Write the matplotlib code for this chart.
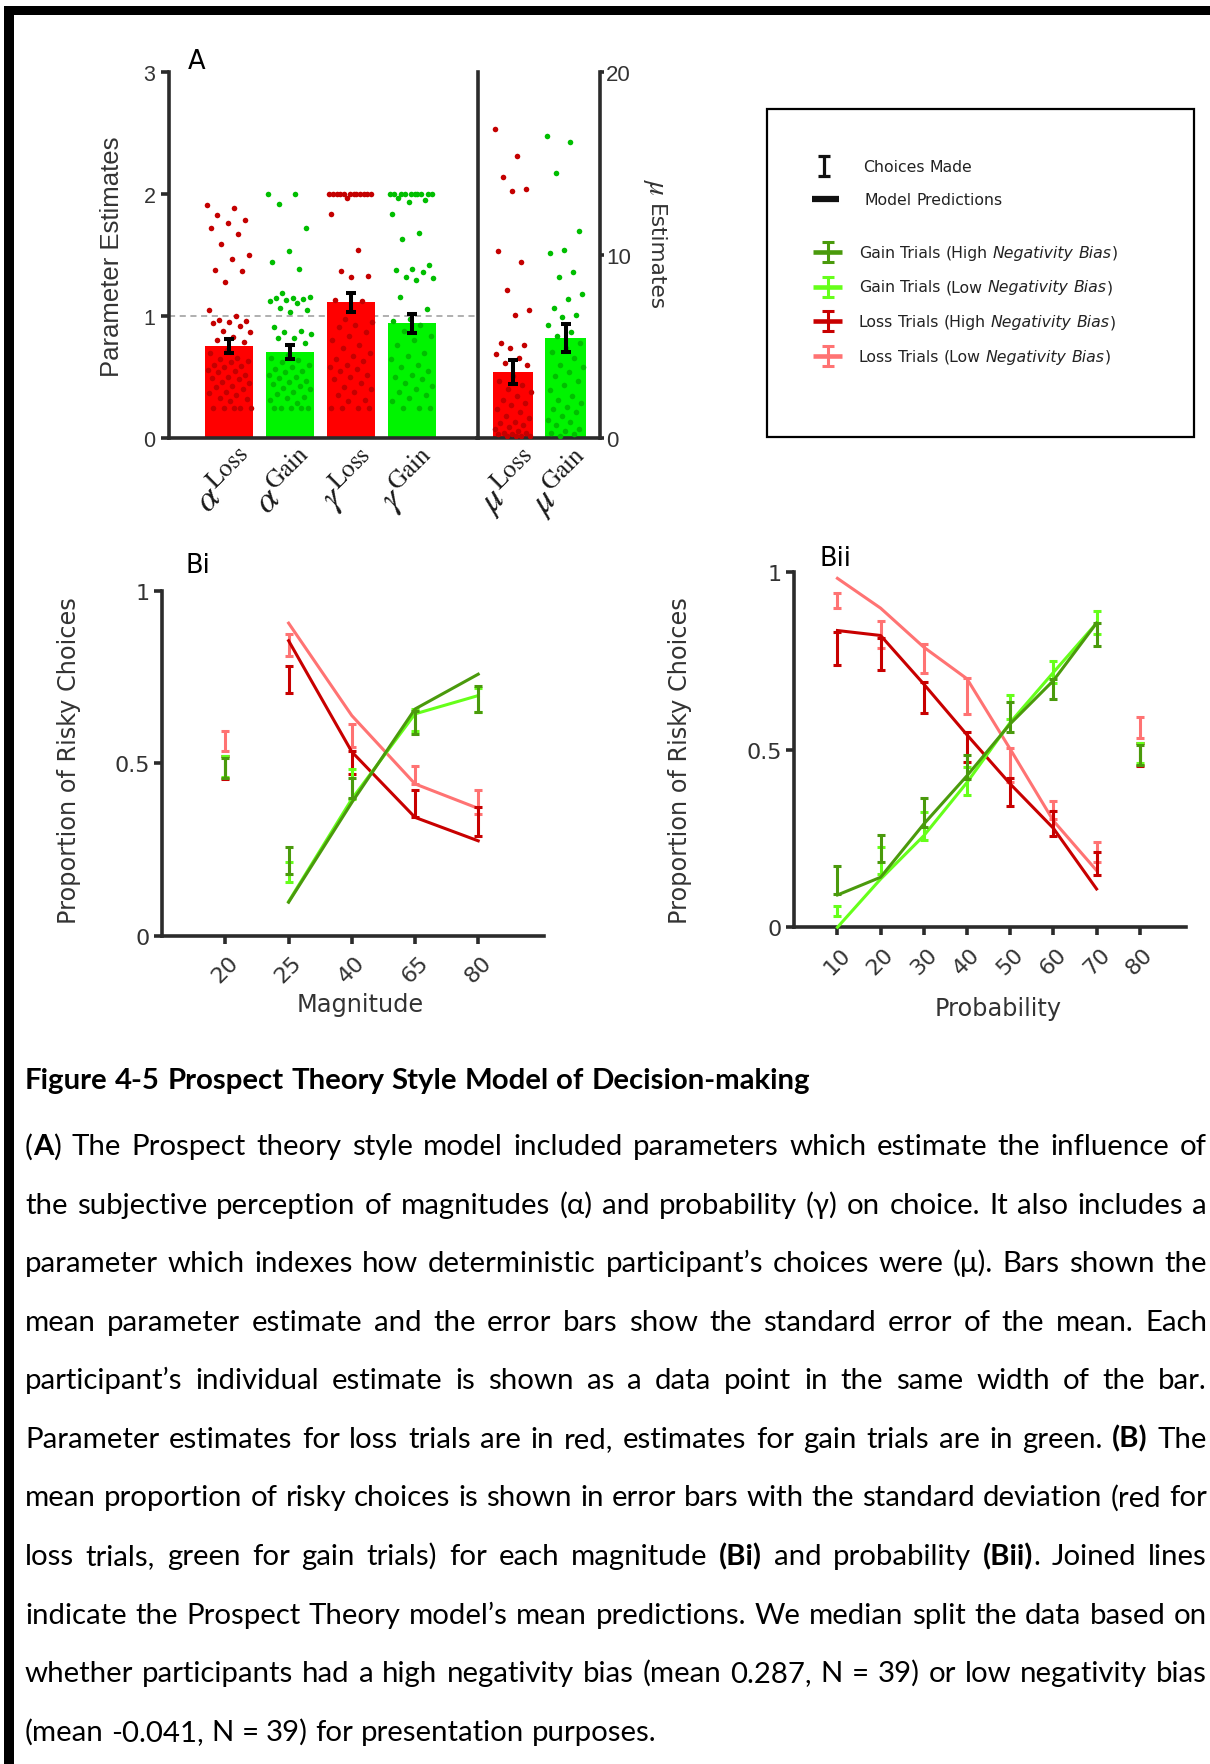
import numpy as np
import matplotlib
matplotlib.use('Agg')
import matplotlib.pyplot as plt
from matplotlib.patches import Rectangle

plt.rcParams['mathtext.fontset'] = 'stix'
plt.rcParams['font.family'] = ['DejaVu Sans']

W, H = 1210, 1765
INK = '#2b2b2b'
TXT = '#333333'

RED, RED_DOT = '#FF0000', '#C40000'
GREEN, GREEN_DOT = '#00F400', '#00BE00'
LOSS_LOW, LOSS_HIGH = '#FF7373', '#C80000'
GAIN_HIGH, GAIN_LOW = '#4A9A0C', '#66FF1A'

# ---------------- panel A: parameter estimates ----------------
param_labels = [r'$\alpha^{\mathrm{Loss}}$', r'$\alpha^{\mathrm{Gain}}$',
                r'$\gamma^{\mathrm{Loss}}$', r'$\gamma^{\mathrm{Gain}}$']
param_means = [0.755, 0.707, 1.112, 0.942]
param_sem = [0.054, 0.057, 0.080, 0.079]
mu_labels = [r'$\mu^{\mathrm{Loss}}$', r'$\mu^{\mathrm{Gain}}$']
mu_means = [3.61, 5.46]
mu_sem = [0.64, 0.76]

alpha_loss_pts = [1.91, 1.89, 1.83, 1.79, 1.76, 1.72, 1.67, 1.59, 1.50, 1.47, 1.38, 1.37,
                  1.28, 1.05, 1.00, 0.97, 0.96, 0.95, 0.94, 0.92, 0.88, 0.87, 0.83, 0.80,
                  0.79, 0.72, 0.70, 0.66, 0.65, 0.63, 0.62, 0.60, 0.59, 0.58, 0.56, 0.55,
                  0.54, 0.52, 0.50, 0.49, 0.48, 0.46, 0.45, 0.43, 0.42, 0.40, 0.38, 0.37,
                  0.35, 0.33, 0.32, 0.30, 0.25, 0.25, 0.25, 0.25, 0.25]
alpha_gain_pts = [2.00, 2.00, 1.92, 1.72, 1.53, 1.44, 1.39, 1.19, 1.16, 1.15, 1.15, 1.14,
                  1.13, 1.12, 1.11, 1.07, 1.05, 1.03, 0.91, 0.88, 0.87, 0.85, 0.82, 0.82,
                  0.78, 0.68, 0.66, 0.64, 0.62, 0.60, 0.58, 0.57, 0.55, 0.54, 0.52, 0.50,
                  0.49, 0.47, 0.46, 0.44, 0.43, 0.41, 0.40, 0.38, 0.36, 0.34, 0.33, 0.31,
                  0.29, 0.25, 0.25, 0.25, 0.25, 0.25]
gamma_loss_pts = [2.00, 2.00, 2.00, 2.00, 2.00, 2.00, 2.00, 2.00, 2.00, 2.00, 2.00, 2.00,
                  1.97, 1.84, 1.54, 1.37, 1.33, 1.32, 1.13, 1.12, 0.98, 0.95, 0.93, 0.91,
                  0.87, 0.84, 0.80, 0.76, 0.74, 0.70, 0.67, 0.65, 0.63, 0.60, 0.58, 0.57,
                  0.55, 0.52, 0.50, 0.48, 0.45, 0.42, 0.40, 0.38, 0.35, 0.31, 0.30, 0.25,
                  0.25, 0.25, 0.25]
gamma_gain_pts = [2.00, 2.00, 2.00, 2.00, 2.00, 2.00, 2.00, 2.00, 2.00, 2.00, 1.97, 1.95,
                  1.94, 1.84, 1.68, 1.63, 1.42, 1.39, 1.38, 1.36, 1.32, 1.31, 1.30, 1.16,
                  1.06, 0.98, 0.96, 0.93, 0.88, 0.84, 0.80, 0.76, 0.70, 0.67, 0.65, 0.60,
                  0.58, 0.55, 0.52, 0.50, 0.48, 0.45, 0.43, 0.40, 0.38, 0.35, 0.33, 0.30,
                  0.25, 0.25, 0.25]
mu_loss_pts = [16.9, 15.4, 14.3, 13.6, 13.5, 10.2, 9.6, 8.1, 7.0, 6.7, 5.2, 5.1, 4.9, 4.6,
               4.4, 4.1, 4.0, 3.4, 3.1, 2.9, 2.7, 2.5, 2.3, 2.1, 1.9, 1.8, 1.6, 1.4, 1.2,
               1.1, 0.9, 0.8, 0.7, 0.6, 0.5, 0.4, 0.3, 0.3, 0.2, 0.2, 0.1, 0.1, 0.1, 0.1]
mu_gain_pts = [16.5, 16.2, 14.5, 11.3, 10.3, 10.1, 9.1, 8.8, 7.9, 7.6, 7.1, 6.7, 6.6, 6.2,
               5.8, 5.6, 5.2, 4.9, 4.7, 4.4, 4.0, 3.9, 3.6, 3.4, 3.1, 2.9, 2.6, 2.3, 2.1,
               1.9, 1.7, 1.6, 1.4, 1.2, 1.0, 0.9, 0.7, 0.5, 0.4, 0.3, 0.2, 0.1]

# ---------------- panel Bi: magnitude ----------------
mag_labels = ['20', '25', '40', '65', '80']
mag_loss_low = [0.565, 0.843, 0.580, 0.465, 0.388]
mag_loss_low_err = [0.029, 0.031, 0.034, 0.026, 0.035]
mag_loss_high = [0.488, 0.742, 0.502, 0.382, 0.331]
mag_loss_high_err = [0.034, 0.039, 0.034, 0.039, 0.041]
mag_gain_low = [0.490, 0.184, 0.440, 0.625, 0.683]
mag_gain_low_err = [0.030, 0.029, 0.044, 0.032, 0.034]
mag_gain_high = [0.485, 0.217, 0.427, 0.618, 0.686]
mag_gain_high_err = [0.029, 0.039, 0.029, 0.034, 0.037]
mag_model_x = [1, 2, 3, 4]
mag_loss_low_model = [0.906, 0.638, 0.440, 0.369]
mag_loss_high_model = [0.855, 0.533, 0.343, 0.275]
mag_gain_low_model = [0.099, 0.396, 0.643, 0.696]
mag_gain_high_model = [0.097, 0.386, 0.657, 0.758]

# ---------------- panel Bii: probability ----------------
prob_labels = ['10', '20', '30', '40', '50', '60', '70', '80']
prob_loss_low = [0.920, 0.826, 0.757, 0.651, 0.456, 0.331, 0.212, 0.563]
prob_loss_low_err = [0.021, 0.038, 0.041, 0.050, 0.048, 0.026, 0.029, 0.029]
prob_loss_high = [0.786, 0.769, 0.647, 0.508, 0.381, 0.293, 0.180, 0.487]
prob_loss_high_err = [0.047, 0.045, 0.043, 0.043, 0.039, 0.036, 0.033, 0.032]
prob_gain_low = [0.046, 0.188, 0.286, 0.412, 0.620, 0.720, 0.859, 0.490]
prob_gain_low_err = [0.013, 0.038, 0.040, 0.039, 0.033, 0.031, 0.033, 0.028]
prob_gain_high = [0.133, 0.222, 0.323, 0.452, 0.592, 0.671, 0.825, 0.485]
prob_gain_high_err = [0.039, 0.039, 0.041, 0.034, 0.043, 0.029, 0.032, 0.028]
prob_model_x = [0, 1, 2, 3, 4, 5, 6]
prob_loss_low_model = [0.983, 0.899, 0.789, 0.700, 0.502, 0.300, 0.160]
prob_loss_high_model = [0.836, 0.822, 0.685, 0.542, 0.404, 0.279, 0.108]
prob_gain_low_model = [0.000, 0.136, 0.258, 0.408, 0.577, 0.718, 0.857]
prob_gain_high_model = [0.091, 0.141, 0.291, 0.427, 0.573, 0.695, 0.857]

legend_rows = [
    ('Gain Trials (High *Negativity Bias*)', GAIN_HIGH),
    ('Gain Trials (Low *Negativity Bias*)', GAIN_LOW),
    ('Loss Trials (High *Negativity Bias*)', LOSS_HIGH),
    ('Loss Trials (Low *Negativity Bias*)', LOSS_LOW),
]

caption_title = 'Figure 4-5 Prospect Theory Style Model of Decision-making'
caption_lines = [
    '(**A**) The Prospect theory style model included parameters which estimate the influence of',
    'the subjective perception of magnitudes (α) and probability (γ) on choice. It also includes a',
    'parameter which indexes how deterministic participant’s choices were (μ). Bars shown the',
    'mean parameter estimate and the error bars show the standard error of the mean. Each',
    'participant’s individual estimate is shown as a data point in the same width of the bar.',
    'Parameter estimates for loss trials are in red, estimates for gain trials are in green. **(B)** The',
    'mean proportion of risky choices is shown in error bars with the standard deviation (red for',
    'loss trials, green for gain trials) for each magnitude **(Bi)** and probability **(Bii)**. Joined lines',
    'indicate the Prospect Theory model’s mean predictions. We median split the data based on',
    'whether participants had a high negativity bias (mean 0.287, N = 39) or low negativity bias',
    '(mean -0.041, N = 39) for presentation purposes.',
]


def rect(x0, y0, x1, y1):
    # pixel box (top-left origin) -> figure fraction
    return [x0 / W, 1 - y1 / H, (x1 - x0) / W, (y1 - y0) / H]


def frame(ax, show):
    for side in ['top', 'right', 'left', 'bottom']:
        sp = ax.spines[side]
        sp.set_visible(side in show)
        sp.set_linewidth(2.6)
        sp.set_color(INK)
        sp.set_capstyle('projecting')
    ax.set_facecolor('none')


def spread(n, width):
    k = np.arange(n)
    return ((k * 0.618034) % 1.0 - 0.5) * width


fig = plt.figure(figsize=(W / 100, H / 100), dpi=100)
fig.patch.set_facecolor('white')

# full-page overlay in pixel units for caption, legend and frame
ov = fig.add_axes([0, 0, 1, 1])
ov.set_xlim(0, W)
ov.set_ylim(H, 0)
ov.axis('off')
ov.add_patch(Rectangle((4, 7), W - 4, 9, color='black', lw=0))
ov.add_patch(Rectangle((4, 7), 10, H - 7, color='black', lw=0))

# ---------------- A ----------------
TICK_A = dict(textcoords='offset points', rotation=45, ha='right', va='center',
              rotation_mode='anchor', fontsize=26, color='#1a1a1a', annotation_clip=False)

axA = fig.add_axes(rect(169, 73.3, 477.5, 439))
frame(axA, ['left', 'bottom'])
axA.set_xlim(-0.984, 4.07)
axA.set_ylim(0, 3)
xa = np.arange(len(param_means))
bar_cols = [RED, GREEN, RED, GREEN]
dot_cols = [RED_DOT, GREEN_DOT, RED_DOT, GREEN_DOT]
axA.axhline(1, color='#9a9a9a', lw=1.1, ls=(0, (4, 3)), zorder=1)
axA.bar(xa, param_means, width=0.787, color=bar_cols, zorder=2)
for i, pts in enumerate([alpha_loss_pts, alpha_gain_pts, gamma_loss_pts, gamma_gain_pts]):
    axA.scatter(i + spread(len(pts), 0.72), pts, s=16, color=dot_cols[i], lw=0, zorder=3)
axA.errorbar(xa, param_means, yerr=param_sem, fmt='none', ecolor='black',
             elinewidth=2.9, capsize=3.6, capthick=2.9, zorder=4)
axA.set_xticks([])
axA.set_yticks([0, 1, 2, 3])
axA.tick_params(axis='y', length=5.8, width=2.6, color=INK, labelsize=15.5,
                labelcolor=TXT, pad=4)
for lab in axA.get_yticklabels():
    lab.set_family('Liberation Sans')
for i, lab in enumerate(param_labels):
    axA.annotate(lab, xy=(i, 0), xycoords=('data', 'axes fraction'), xytext=(16, -13), **TICK_A)

axM = fig.add_axes(rect(477.5, 73.3, 600, 439))
frame(axM, ['left', 'right', 'bottom'])
axM.set_xlim(-0.676, 1.657)
axM.set_ylim(0, 20)
xm = np.arange(len(mu_means))
axM.bar(xm, mu_means, width=0.78, color=[RED, GREEN], zorder=2)
for i, pts in enumerate([mu_loss_pts, mu_gain_pts]):
    axM.scatter(i + spread(len(pts), 0.7), pts, s=16, color=[RED_DOT, GREEN_DOT][i],
                lw=0, zorder=3)
axM.errorbar(xm, mu_means, yerr=mu_sem, fmt='none', ecolor='black',
             elinewidth=2.9, capsize=3.6, capthick=2.9, zorder=4)
axM.set_xticks([])
axM.yaxis.tick_right()
axM.set_yticks([0, 10, 20])
axM.tick_params(axis='y', length=3, width=2.6, color=INK, labelsize=16,
                labelcolor=TXT, pad=1.5)
for lab in axM.get_yticklabels():
    lab.set_family('Liberation Sans')
for i, lab in enumerate(mu_labels):
    axM.annotate(lab, xy=(i, 0), xycoords=('data', 'axes fraction'), xytext=(16, -13), **TICK_A)

ov.text(112, 257, 'Parameter Estimates', rotation=90, ha='center', va='center',
        fontsize=18.5, color=TXT, family='Liberation Sans')
ov.text(657, 187, 'μ', rotation=270, ha='center', va='center',
        fontsize=21, color=TXT, family='STIXGeneral', style='italic')
ov.text(655, 257, 'Estimates', rotation=270, ha='center', va='center',
        fontsize=15.6, color=TXT)
ov.text(188, 69, 'A', fontsize=18.5, color='black', va='baseline')


# ---------------- B ----------------
def draw_series(ax, means, errs, model_x, model, color):
    x = np.arange(len(means))
    ax.errorbar(x, means, yerr=errs, fmt='none', ecolor=color, elinewidth=2.2,
                capsize=3.1, capthick=2.2, zorder=3, clip_on=False)
    ax.plot(model_x, model, color=color, lw=2.2, zorder=3, clip_on=False)


def style_b(ax, labels, xlim):
    frame(ax, ['left', 'bottom'])
    ax.set_xlim(*xlim)
    ax.set_ylim(0, 1)
    ax.set_yticks([0, 0.5, 1], ['0', '0.5', '1'])
    ax.set_xticks(range(len(labels)), labels, rotation=45, ha='center')
    ax.tick_params(length=5.8, width=2.6, color=INK, labelsize=16, labelcolor=TXT)
    ax.tick_params(axis='y', pad=3)
    ax.tick_params(axis='x', pad=6)


axBi = fig.add_axes(rect(162, 591.7, 543.7, 936.7))
style_b(axBi, mag_labels, (-1.003, 5.036))
draw_series(axBi, mag_loss_low, mag_loss_low_err, mag_model_x, mag_loss_low_model, LOSS_LOW)
draw_series(axBi, mag_loss_high, mag_loss_high_err, mag_model_x, mag_loss_high_model, LOSS_HIGH)
draw_series(axBi, mag_gain_low, mag_gain_low_err, mag_model_x, mag_gain_low_model, GAIN_LOW)
draw_series(axBi, mag_gain_high, mag_gain_high_err, mag_model_x, mag_gain_high_model, GAIN_HIGH)

axBii = fig.add_axes(rect(793.8, 573.3, 1186, 928.3))
style_b(axBii, prob_labels, (-1.01, 8.07))
draw_series(axBii, prob_loss_low, prob_loss_low_err, prob_model_x, prob_loss_low_model, LOSS_LOW)
draw_series(axBii, prob_loss_high, prob_loss_high_err, prob_model_x, prob_loss_high_model, LOSS_HIGH)
draw_series(axBii, prob_gain_low, prob_gain_low_err, prob_model_x, prob_gain_low_model, GAIN_LOW)
draw_series(axBii, prob_gain_high, prob_gain_high_err, prob_model_x, prob_gain_high_model, GAIN_HIGH)

ov.text(69, 761, 'Proportion of Risky Choices', rotation=90, ha='center', va='center',
        fontsize=17.3, color=TXT)
ov.text(680, 761, 'Proportion of Risky Choices', rotation=90, ha='center', va='center',
        fontsize=17.3, color=TXT)
ov.text(360, 1005, 'Magnitude', ha='center', va='center', fontsize=17.3, color=TXT)
ov.text(998, 1009, 'Probability', ha='center', va='center', fontsize=17.3, color=TXT)
ov.text(185, 572.7, 'Bi', fontsize=18.5, color='black', va='baseline')
ov.text(819, 566, 'Bii', fontsize=18.5, color='black', va='baseline')

# ---------------- text layout helpers ----------------
renderer = fig.canvas.get_renderer()


def parse_words(line, marker):
    words = [[]]
    for k, chunk in enumerate(line.split(marker)):
        flag = k % 2 == 1
        for j, piece in enumerate(chunk.split(' ')):
            if j > 0:
                words.append([])
            if piece:
                words[-1].append((piece, flag))
    return [w for w in words if w]


def measure(s, **props):
    t = ov.text(0, 0, s, **props)
    w = t.get_window_extent(renderer).width
    t.remove()
    return w


def set_line(words, x0, x1, y, props_for, justify):
    placed = []
    total = 0.0
    for word in words:
        segs = []
        for s, flag in word:
            t = ov.text(x0, y, s, ha='left', va='baseline', **props_for(flag))
            w = t.get_window_extent(renderer).width
            segs.append((t, w))
            total += w
        placed.append(segs)
    base = props_for(False)
    space = measure('a a', **base) - measure('aa', **base)
    if justify and len(placed) > 1:
        gap = (x1 - x0 - total) / (len(placed) - 1)
    else:
        gap = space
    x = x0
    for segs in placed:
        for t, w in segs:
            t.set_x(x)
            x += w
        x += gap


# ---------------- legend ----------------
ov.add_patch(Rectangle((766.7, 110), 427.3, 327.7, fill=False, ec='black', lw=1.6))
ov.errorbar([824], [166.7], yerr=[10], fmt='none', ecolor='#111111', elinewidth=2.3,
            capsize=4.3, capthick=2.3)
ov.plot([811.7, 839], [200, 200], color='#111111', lw=4.5, solid_capstyle='butt')
LEG_FONT = dict(family='DejaVu Sans', size=11.3, color='#222222')
set_line([[('Choices', False)], [('Made', False)]], 863, 0, 171.5,
         lambda f: LEG_FONT, False)
set_line([[('Model', False)], [('Predictions', False)]], 864, 0, 205,
         lambda f: LEG_FONT, False)
for k, (label, col) in enumerate(legend_rows):
    yy = 253 + 34.6 * k
    ov.plot([813, 842], [yy, yy], color=col, lw=3.3, solid_capstyle='butt')
    ov.errorbar([827.5], [yy], yerr=[10], fmt='none', ecolor=col, elinewidth=2.2,
                capsize=4.3, capthick=2.2)
    set_line(parse_words(label, '*'), 859, 0, yy + 4.8,
             lambda f: dict(LEG_FONT, style='italic' if f else 'normal'), False)

# ---------------- caption ----------------
CAP_FAMILY = ['Lato', 'DejaVu Sans']
LEFT, RIGHT = 25, 1207


def cap_props(size):
    return lambda bold: dict(family=CAP_FAMILY, size=size, color='black',
                             weight='bold' if bold else 'normal')


def natural_width(words, size):
    props = cap_props(size)
    total = sum(measure(s, **props(b)) for word in words for s, b in word)
    space = measure('a a', **props(False)) - measure('aa', **props(False))
    return total + space * (len(words) - 1)


parsed = [parse_words(line, '**') for line in caption_lines]
ref = 10.0
size = ref * 633 / natural_width(parsed[-1], ref)
for words in parsed[:-1]:
    size = min(size, ref * (RIGHT - LEFT) * 0.995 / natural_width(words, ref))

em = size * 100 / 72
set_line([[(w, True)] for w in caption_title.split(' ')], LEFT, RIGHT, 1078.3 + 0.36 * em,
         cap_props(size), False)
for k, words in enumerate(parsed):
    yc = 1144.7 + 58.53 * k
    set_line(words, LEFT, RIGHT, yc + 0.36 * em, cap_props(size),
             k < len(parsed) - 1)

fig.savefig('out.png', dpi=100)
